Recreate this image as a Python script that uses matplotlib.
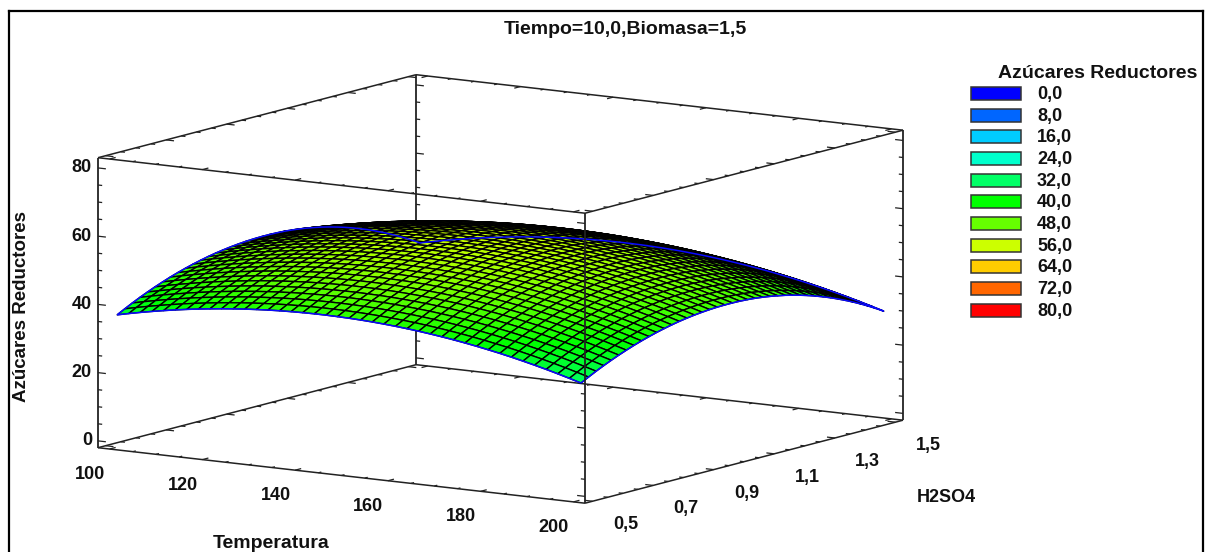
import matplotlib
matplotlib.use("Agg")
import matplotlib.pyplot as plt
from matplotlib.colors import LinearSegmentedColormap
from matplotlib.patches import Rectangle
import numpy as np

plt.rcParams['font.family'] = ['Liberation Sans', 'DejaVu Sans']

W, H = 1211, 552

# surface: height along Temperatura at mid H2SO4,
# and the change along H2SO4. The grid is their sum (no per-cell reading)
temperatura = np.arange(100, 200.1, 2.5)
h2so4 = np.arange(0.5, 1.5001, 0.025)
temp_profile = [48.65, 49.42, 50.14, 50.81, 51.44, 52.03, 52.57, 53.06, 53.51, 53.92, 54.28,
                54.59, 54.86, 55.09, 55.27, 55.4, 55.49, 55.54, 55.54, 55.49, 55.4,
                55.27, 55.09, 54.86, 54.59, 54.28, 53.92, 53.51, 53.06, 52.57, 52.03,
                51.44, 50.81, 50.14, 49.42, 48.65, 47.84, 46.99, 46.09, 45.14, 44.15]
acid_profile = [-11.9, -10.72, -9.59, -8.53, -7.54, -6.6, -5.73, -4.91, -4.16, -3.48, -2.85,
                -2.29, -1.78, -1.34, -0.97, -0.65, -0.4, -0.2, -0.07, -0.01, 0,
                -0.06, -0.18, -0.37, -0.64, -0.97, -1.37, -1.82, -2.36, -2.96, -3.62,
                -4.36, -5.16, -6.02, -6.97, -7.97, -9.04, -10.17, -11.38, -12.65, -14.0]

# legend
legend_levels = [0, 8, 16, 24, 32, 40, 48, 56, 64, 72, 80]
legend_labels = ['0,0', '8,0', '16,0', '24,0', '32,0', '40,0', '48,0', '56,0', '64,0', '72,0', '80,0']
legend_colors = ['#0000ff', '#0066ff', '#00ccff', '#00ffcc', '#00ff66', '#00ff00',
                 '#66ff00', '#ccff00', '#ffcc00', '#ff6600', '#ff0000']

# ticks
x_major = [100, 120, 140, 160, 180, 200]
y_major = [0.5, 0.7, 0.9, 1.1, 1.3, 1.5]
z_major = [0, 20, 40, 60, 80]
y_major_labels = ['0,5', '0,7', '0,9', '1,1', '1,3', '1,5']
x_minor = np.arange(100, 201, 5)
y_minor = np.arange(0.5, 1.51, 0.05)
z_minor = np.arange(0, 81, 5)

xlo, xhi = 97.5, 202.5
ylo, yhi = 0.475, 1.525
zlo, zhi = -2, 83

# where the box lands on the image, in pixels
origin = (98, 447.7)
x_edge = (487, 55.5)
y_edge = (318, -83)
z_edge = (0, -290)


def to_px(x, y, z):
    a = (x - xlo) / (xhi - xlo)
    b = (y - ylo) / (yhi - ylo)
    c = (z - zlo) / (zhi - zlo)
    return (origin[0] + a * x_edge[0] + b * y_edge[0] + c * z_edge[0],
            origin[1] + a * x_edge[1] + b * y_edge[1] + c * z_edge[1])


def label(px, py, s, ha='center', **kw):
    fig.text(px / W, 1 - (py + 1) / H, s, ha=ha, va='center', fontweight='bold',
             fontsize=kw.pop('fontsize', 13), color='#111111', **kw)


def fixed_proj():
    # parallel projection taken from the reference box instead of elev/azim
    inv = ax.transData.inverted()
    (tx, ty), (rx, _), (_, ry) = inv.transform([(0, 0), (1, 0), (0, 1)])
    sx, sy = rx - tx, ry - ty
    scale = np.array([1 / (xhi - xlo), 1 / (yhi - ylo), 1 / (zhi - zlo)])
    low = np.array([xlo, ylo, zlo])
    row_x = np.array([x_edge[0], y_edge[0], z_edge[0]], dtype=float)
    row_y = np.array([x_edge[1], y_edge[1], z_edge[1]], dtype=float)
    view = np.cross(row_x, row_y)
    view = view / np.linalg.norm(view)
    if view[0] < 0:
        view = -view
    M = np.eye(4)
    M[0, :3] = sx * row_x * scale
    M[0, 3] = sx * (origin[0] - np.dot(row_x * scale, low)) + tx
    M[1, :3] = -sy * row_y * scale
    M[1, 3] = sy * (H - origin[1] + np.dot(row_y * scale, low)) + ty
    M[2, :3] = -view * scale
    M[2, 3] = np.dot(view * scale, low)
    return M


fig = plt.figure(figsize=(W / 100, H / 100), dpi=100)
ax = fig.add_axes([0, 0, 1, 1], projection='3d', computed_zorder=False)
ax.set_proj_type('ortho')
ax.apply_aspect = lambda position=None: None
ax.get_proj = fixed_proj
ax.set_axis_off()

cmap = LinearSegmentedColormap.from_list('az', legend_colors)
X, Y = np.meshgrid(temperatura, h2so4, indexing='ij')
Z = np.add.outer(np.array(temp_profile), np.array(acid_profile))

box_c = '#222222'


def seg(xs, ys, zs, lw=1.1, zorder=1, color=box_c):
    ax.plot(xs, ys, zs, color=color, lw=lw, zorder=zorder, solid_capstyle='butt')


# box edges, front vertical goes over the surface
for y0 in (ylo, yhi):
    for z0 in (zlo, zhi):
        seg([xlo, xhi], [y0, y0], [z0, z0])
for x0 in (xlo, xhi):
    for z0 in (zlo, zhi):
        seg([x0, x0], [ylo, yhi], [z0, z0])
for x0, y0 in ((xlo, ylo), (xlo, yhi), (xhi, yhi)):
    seg([x0, x0], [y0, y0], [zlo, zhi], lw=1.3)
seg([xhi, xhi], [ylo, ylo], [zlo, zhi], lw=1.3, zorder=6)

# ticks on every edge
for x0, sign in ((xlo, 1), (xhi, -1)):
    for y0 in (ylo, yhi):
        for z0 in z_minor:
            dx = 1.7 if z0 in z_major else 0.9
            seg([x0, x0 + sign * dx], [y0, y0], [z0, z0], lw=0.9)
for y0, sign in ((ylo, 1), (yhi, -1)):
    for z0 in (zlo, zhi):
        for x0 in x_minor:
            dy = 0.02 if x0 in x_major else 0.01
            seg([x0, x0], [y0, y0 + sign * dy], [z0, z0], lw=0.9)
for x0, sign in ((xlo, 1), (xhi, -1)):
    for z0 in (zlo, zhi):
        for y0 in y_minor:
            dx = 1.7 if np.isclose(y0, y_major).any() else 0.9
            seg([x0, x0 + sign * dx], [y0, y0], [z0, z0], lw=0.9)

ax.plot_surface(X, Y, Z, facecolors=cmap(Z / 80), rstride=1, cstride=1, shade=False,
                edgecolor='#000000', linewidth=1.0, antialiased=True, zorder=3)

# surface outline
blue = '#0a0aff'
for xs, ys, zs in ((temperatura, h2so4[0] * np.ones(41), Z[:, 0]),
                   (temperatura, h2so4[-1] * np.ones(41), Z[:, -1]),
                   (temperatura[0] * np.ones(41), h2so4, Z[0, :]),
                   (temperatura[-1] * np.ones(41), h2so4, Z[-1, :])):
    seg(xs, ys, zs, lw=1.1, zorder=5, color=blue)

ax.set_xlim(xlo, xhi)
ax.set_ylim(ylo, yhi)
ax.set_zlim(zlo, zhi)

# tick labels sit at a fixed offset from their tick
for v in x_major:
    px, py = to_px(v, ylo, zlo)
    label(px - 19.5, py + 24.5, str(v))
for v, s in zip(y_major, y_major_labels):
    px, py = to_px(xhi, v, zlo)
    label(px + 33, py + 22.5, s)
for v in z_major:
    px, py = to_px(xlo, ylo, v)
    label(px - 6, py - 1, str(v), ha='right')

label(625, 29, 'Tiempo=10,0,Biomasa=1,5', fontsize=14)
label(271, 543, 'Temperatura', fontsize=14)
label(946, 497, 'H2SO4', fontsize=13)
label(22, 306, 'Azúcares Reductores', rotation=90, fontsize=13.5)
label(1098, 72, 'Azúcares Reductores', fontsize=14)

# legend
for i, (col, s) in enumerate(zip(legend_colors, legend_labels)):
    yc = 93.3 + i * 21.7
    fig.add_artist(Rectangle((971 / W, 1 - (yc + 6.5) / H), 50 / W, 13 / H, transform=fig.transFigure,
                             facecolor=col, edgecolor='#333333', lw=1.1))
    label(1037, yc, s, ha='left')

# outer frame, open at the bottom of the image
for xs, ys in (([9, 9], [552, 11]), ([9, 1203], [11, 11]), ([1203, 1203], [11, 552])):
    fig.add_artist(plt.Line2D([v / W for v in xs], [1 - v / H for v in ys], color='black', lw=1.6,
                              transform=fig.transFigure))

fig.savefig('out.png', dpi=100)
